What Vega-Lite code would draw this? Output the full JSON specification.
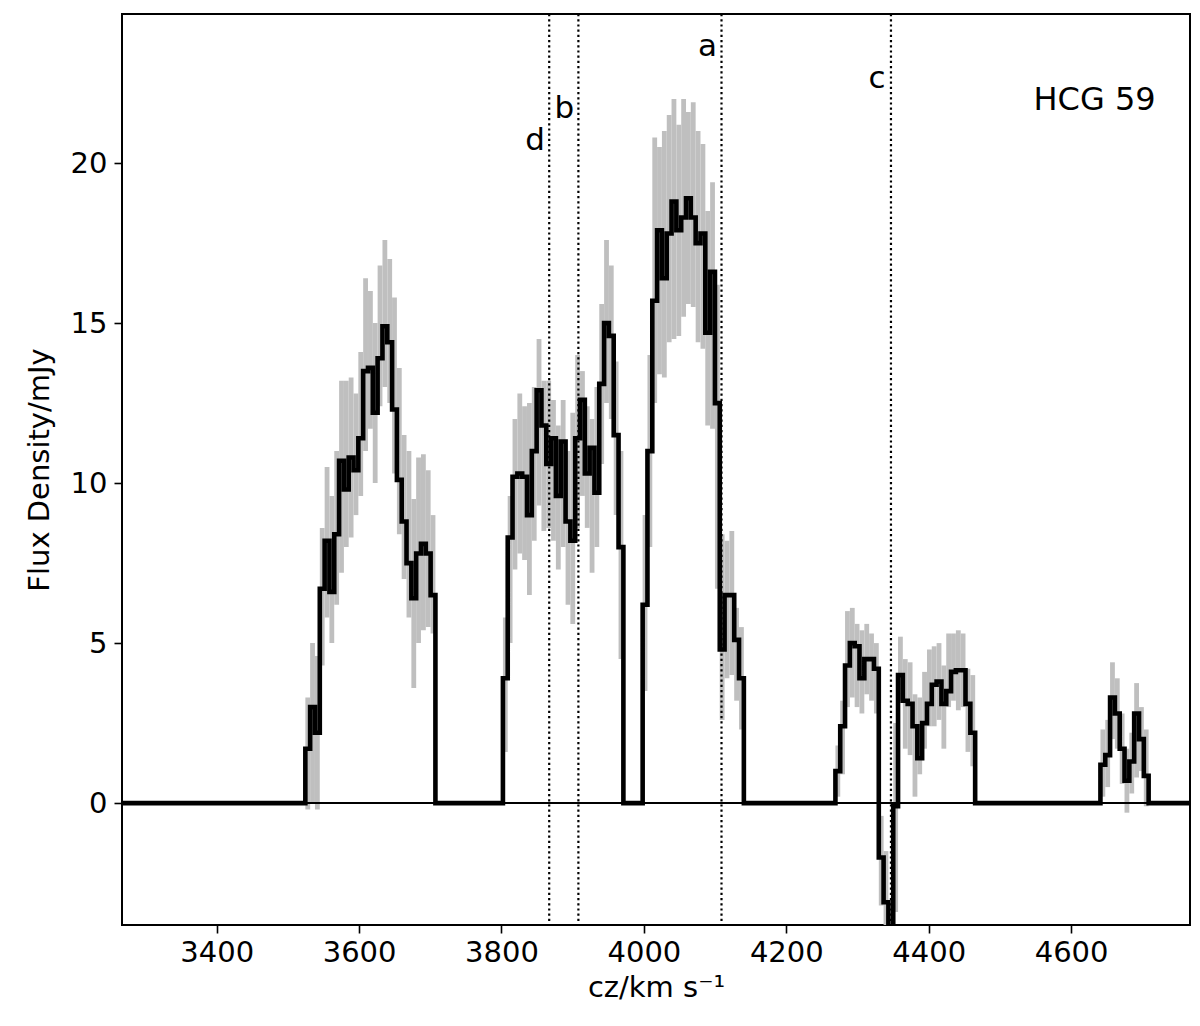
{
  "$schema": "https://vega.github.io/schema/vega-lite/v6.json",
  "width": 1068,
  "height": 911,
  "autosize": {"type": "none"},
  "padding": {"left": 122, "top": 14, "right": 10, "bottom": 101},
  "config": {
    "view": {"stroke": "black", "strokeWidth": 2},
    "font": "DejaVu Sans",
    "axis": {
      "domain": false,
      "grid": false,
      "ticks": true,
      "tickColor": "black",
      "tickSize": 8,
      "tickWidth": 1.6,
      "labelColor": "black",
      "labelFont": "DejaVu Sans",
      "labelFontSize": 29,
      "titleFont": "DejaVu Sans",
      "titleFontSize": 29,
      "titleFontWeight": "normal",
      "titleColor": "black"
    }
  },
  "datasets": {
    "spec": [
      {"v": 3260, "f": 0},
      {"v": 3521.1, "f": 0},
      {"v": 3527.9, "f": 1.7, "lo": -0.2, "hi": 3.3},
      {"v": 3534.6, "f": 3.0, "lo": 0.0, "hi": 5.0},
      {"v": 3541.4, "f": 2.2, "lo": -0.2, "hi": 4.6},
      {"v": 3548.2, "f": 6.7, "lo": 4.3, "hi": 8.6},
      {"v": 3555.0, "f": 8.2, "lo": 5.8, "hi": 10.5},
      {"v": 3561.7, "f": 6.6, "lo": 5.0, "hi": 9.6},
      {"v": 3568.5, "f": 8.4, "lo": 6.2, "hi": 11.0},
      {"v": 3575.3, "f": 10.7, "lo": 7.2, "hi": 13.2},
      {"v": 3582.0, "f": 9.8, "lo": 8.0, "hi": 13.2},
      {"v": 3588.8, "f": 10.8, "lo": 8.3, "hi": 13.3},
      {"v": 3595.6, "f": 10.4, "lo": 9.0, "hi": 12.8},
      {"v": 3602.3, "f": 11.4, "lo": 9.6, "hi": 14.1},
      {"v": 3609.1, "f": 13.5, "lo": 11.0, "hi": 16.4},
      {"v": 3615.9, "f": 13.6, "lo": 11.7, "hi": 16.0},
      {"v": 3622.6, "f": 12.2, "lo": 10.0, "hi": 15.0},
      {"v": 3629.4, "f": 13.9, "lo": 12.4, "hi": 16.8},
      {"v": 3636.2, "f": 14.9, "lo": 13.0, "hi": 17.6},
      {"v": 3643.0, "f": 14.4, "lo": 12.5, "hi": 17.0},
      {"v": 3649.7, "f": 12.3, "lo": 10.3, "hi": 15.8},
      {"v": 3656.5, "f": 10.1, "lo": 8.4, "hi": 13.6},
      {"v": 3663.2, "f": 8.8, "lo": 7.0, "hi": 11.5},
      {"v": 3670.0, "f": 7.5, "lo": 5.8, "hi": 11.0},
      {"v": 3676.8, "f": 6.4, "lo": 3.6, "hi": 9.5},
      {"v": 3683.5, "f": 7.8, "lo": 5.0, "hi": 10.8},
      {"v": 3690.3, "f": 8.1, "lo": 5.4, "hi": 10.9},
      {"v": 3697.1, "f": 7.8, "lo": 5.5, "hi": 10.4},
      {"v": 3703.8, "f": 6.5, "lo": 5.3, "hi": 9.0},
      {"v": 3710.6, "f": 0},
      {"v": 3798.6, "f": 0},
      {"v": 3805.4, "f": 3.9, "lo": 1.6, "hi": 5.8},
      {"v": 3812.1, "f": 8.3, "lo": 5.0, "hi": 9.6},
      {"v": 3818.9, "f": 10.2, "lo": 7.3, "hi": 12.0},
      {"v": 3825.7, "f": 10.3, "lo": 7.8, "hi": 12.8},
      {"v": 3832.4, "f": 10.2, "lo": 7.6, "hi": 12.4},
      {"v": 3839.2, "f": 9.0, "lo": 6.5, "hi": 12.5},
      {"v": 3846.0, "f": 11.0, "lo": 8.2, "hi": 13.0},
      {"v": 3852.7, "f": 12.9, "lo": 9.3, "hi": 14.5},
      {"v": 3859.5, "f": 11.8, "lo": 8.5, "hi": 13.2},
      {"v": 3866.3, "f": 10.6, "lo": 8.6, "hi": 13.2},
      {"v": 3873.0, "f": 11.4, "lo": 8.2, "hi": 12.6},
      {"v": 3879.8, "f": 9.6, "lo": 7.3, "hi": 11.8},
      {"v": 3886.6, "f": 11.3, "lo": 8.0, "hi": 12.6},
      {"v": 3893.4, "f": 8.8, "lo": 6.2, "hi": 11.0},
      {"v": 3900.1, "f": 8.2, "lo": 5.6, "hi": 12.2},
      {"v": 3906.9, "f": 11.4, "lo": 8.6, "hi": 14.0},
      {"v": 3913.7, "f": 12.6, "lo": 9.6, "hi": 13.5},
      {"v": 3920.4, "f": 10.3, "lo": 8.6, "hi": 12.4},
      {"v": 3927.2, "f": 11.1, "lo": 7.2, "hi": 12.0},
      {"v": 3933.9, "f": 9.7, "lo": 8.0, "hi": 13.0},
      {"v": 3940.7, "f": 13.1, "lo": 10.6, "hi": 15.6},
      {"v": 3947.5, "f": 15.0, "lo": 12.5, "hi": 17.6},
      {"v": 3954.2, "f": 14.6, "lo": 12.0, "hi": 16.8},
      {"v": 3961.0, "f": 11.5, "lo": 9.0, "hi": 13.8},
      {"v": 3967.8, "f": 8.0, "lo": 4.5, "hi": 11.0},
      {"v": 3974.6, "f": 0},
      {"v": 3994.9, "f": 0},
      {"v": 4001.6, "f": 6.2, "lo": 3.5, "hi": 9.0},
      {"v": 4008.4, "f": 11.0, "lo": 8.0, "hi": 14.0},
      {"v": 4015.2, "f": 15.7, "lo": 12.5, "hi": 20.8},
      {"v": 4021.9, "f": 17.9, "lo": 13.4, "hi": 20.5},
      {"v": 4028.7, "f": 16.4, "lo": 13.3, "hi": 21.0},
      {"v": 4035.5, "f": 17.8, "lo": 14.4, "hi": 21.5},
      {"v": 4042.2, "f": 18.8, "lo": 14.5, "hi": 22.0},
      {"v": 4049.0, "f": 17.9, "lo": 14.6, "hi": 21.2},
      {"v": 4055.8, "f": 18.3, "lo": 15.2, "hi": 22.0},
      {"v": 4062.5, "f": 18.9, "lo": 15.6, "hi": 21.6},
      {"v": 4069.3, "f": 18.3, "lo": 15.5, "hi": 21.9},
      {"v": 4076.1, "f": 17.5, "lo": 14.4, "hi": 21.0},
      {"v": 4082.9, "f": 17.8, "lo": 14.2, "hi": 20.6},
      {"v": 4089.6, "f": 14.7, "lo": 11.8, "hi": 18.5},
      {"v": 4096.4, "f": 16.6, "lo": 11.7, "hi": 19.4},
      {"v": 4103.2, "f": 12.5, "lo": 6.7, "hi": 16.2},
      {"v": 4109.9, "f": 4.8, "lo": 2.6, "hi": 8.4},
      {"v": 4116.7, "f": 6.5, "lo": 3.9, "hi": 8.2},
      {"v": 4123.5, "f": 6.5, "lo": 4.0, "hi": 8.5},
      {"v": 4130.2, "f": 5.1, "lo": 3.2, "hi": 6.1},
      {"v": 4137.0, "f": 3.9, "lo": 2.3, "hi": 5.5},
      {"v": 4143.8, "f": 0},
      {"v": 4265.6, "f": 0},
      {"v": 4272.4, "f": 1.0, "lo": 0.2, "hi": 1.8},
      {"v": 4279.1, "f": 2.4, "lo": 0.9, "hi": 3.2},
      {"v": 4285.9, "f": 4.3, "lo": 3.0, "hi": 6.0},
      {"v": 4292.7, "f": 5.0, "lo": 3.3, "hi": 6.1},
      {"v": 4299.4, "f": 4.9, "lo": 3.0, "hi": 5.6},
      {"v": 4306.2, "f": 3.9, "lo": 2.8, "hi": 5.4},
      {"v": 4313.0, "f": 4.5, "lo": 3.4, "hi": 5.6},
      {"v": 4319.7, "f": 4.5, "lo": 3.2, "hi": 5.3},
      {"v": 4326.5, "f": 4.2, "lo": 2.8, "hi": 5.0},
      {"v": 4333.3, "f": -1.7, "lo": -3.2, "hi": -0.4},
      {"v": 4340.0, "f": -3.1, "lo": -4.0, "hi": -1.5},
      {"v": 4346.8, "f": -6.0, "lo": -7.0, "hi": -4.0},
      {"v": 4353.6, "f": -0.1, "lo": -3.4, "hi": 2.5},
      {"v": 4360.3, "f": 4.0, "lo": 3.2, "hi": 5.2},
      {"v": 4367.1, "f": 3.2, "lo": 1.7, "hi": 4.5},
      {"v": 4373.9, "f": 3.1, "lo": 1.5, "hi": 4.4},
      {"v": 4380.7, "f": 2.4, "lo": 0.2, "hi": 3.4},
      {"v": 4387.4, "f": 1.4, "lo": 0.9, "hi": 3.3},
      {"v": 4394.2, "f": 2.5, "lo": 1.7, "hi": 4.1},
      {"v": 4401.0, "f": 3.1, "lo": 2.4, "hi": 4.8},
      {"v": 4407.7, "f": 3.7, "lo": 2.4, "hi": 4.9},
      {"v": 4414.5, "f": 3.8, "lo": 2.6, "hi": 5.0},
      {"v": 4421.3, "f": 3.1, "lo": 1.7, "hi": 4.3},
      {"v": 4428.0, "f": 3.5, "lo": 3.0, "hi": 5.3},
      {"v": 4434.8, "f": 4.1, "lo": 3.2, "hi": 5.3},
      {"v": 4441.6, "f": 4.15, "lo": 2.9, "hi": 5.4},
      {"v": 4448.3, "f": 4.15, "lo": 3.0, "hi": 5.3},
      {"v": 4455.1, "f": 3.1, "lo": 1.6, "hi": 4.2},
      {"v": 4461.9, "f": 2.2, "lo": 1.15, "hi": 4.0},
      {"v": 4468.6, "f": 0},
      {"v": 4637.8, "f": 0},
      {"v": 4644.6, "f": 1.2, "lo": 0.2, "hi": 2.3},
      {"v": 4651.4, "f": 1.5, "lo": 0.5, "hi": 2.6},
      {"v": 4658.1, "f": 3.3, "lo": 2.0, "hi": 4.4},
      {"v": 4664.9, "f": 2.8, "lo": 1.7, "hi": 3.9},
      {"v": 4671.7, "f": 1.7, "lo": 0.6, "hi": 2.8},
      {"v": 4678.4, "f": 0.7, "lo": -0.3, "hi": 1.7},
      {"v": 4685.2, "f": 1.3, "lo": 0.3, "hi": 2.2},
      {"v": 4692.0, "f": 2.8, "lo": 0.8, "hi": 3.75},
      {"v": 4698.8, "f": 2.0, "lo": 1.0, "hi": 3.0},
      {"v": 4705.5, "f": 0.85, "lo": -0.1, "hi": 2.3},
      {"v": 4712.3, "f": 0},
      {"v": 4775, "f": 0}
    ],
    "markers": [
      {"v": 3867, "lab": "d", "ly": 20.41},
      {"v": 3908, "lab": "b", "ly": 21.41},
      {"v": 4109, "lab": "a", "ly": 23.34},
      {"v": 4347, "lab": "c", "ly": 22.34}
    ],
    "label": [
      {"v": 4633, "y": 21.66, "t": "HCG 59"}
    ]
  },
  "layer": [
    {
      "data": {"name": "spec"},
      "transform": [{"filter": "datum.lo != null"}],
      "mark": {"type": "rule", "color": "#bfbfbf", "strokeWidth": 4.8, "clip": true},
      "encoding": {
        "x": {
          "field": "v", "type": "quantitative",
          "scale": {"domain": [3267, 4767], "nice": false, "zero": false},
          "axis": {"values": [3400, 3600, 3800, 4000, 4200, 4400, 4600], "title": "cz/km s\u207b\u00b9", "titlePadding": 6, "labelPadding": 5, "format": "d"}
        },
        "y": {
          "field": "lo", "type": "quantitative",
          "scale": {"domain": [-3.81, 24.66], "nice": false, "zero": false},
          "axis": {"values": [0, 5, 10, 15, 20], "title": "Flux Density/mJy", "titlePadding": 16, "labelPadding": 7}
        },
        "y2": {"field": "hi"}
      }
    },
    {
      "data": {"name": "markers"},
      "mark": {"type": "rule", "color": "black", "strokeWidth": 2.2, "strokeDash": [2.2, 3]},
      "encoding": {"x": {"field": "v", "type": "quantitative"}}
    },
    {
      "data": {"name": "spec"},
      "mark": {"type": "rule", "color": "black", "strokeWidth": 1.6},
      "encoding": {"y": {"datum": 0}}
    },
    {
      "data": {"name": "spec"},
      "mark": {"type": "line", "interpolate": "step", "color": "black", "strokeWidth": 4.6, "clip": true, "strokeJoin": "miter"},
      "encoding": {
        "x": {"field": "v", "type": "quantitative"},
        "y": {"field": "f", "type": "quantitative"}
      }
    },
    {
      "data": {"name": "markers"},
      "mark": {"type": "text", "fontSize": 31, "align": "center", "baseline": "alphabetic", "dx": -14, "color": "black"},
      "encoding": {
        "x": {"field": "v", "type": "quantitative"},
        "y": {"field": "ly", "type": "quantitative"},
        "text": {"field": "lab"}
      }
    },
    {
      "data": {"name": "label"},
      "mark": {"type": "text", "fontSize": 32, "align": "center", "baseline": "alphabetic", "color": "black"},
      "encoding": {
        "x": {"field": "v", "type": "quantitative"},
        "y": {"field": "y", "type": "quantitative"},
        "text": {"field": "t"}
      }
    }
  ]
}
